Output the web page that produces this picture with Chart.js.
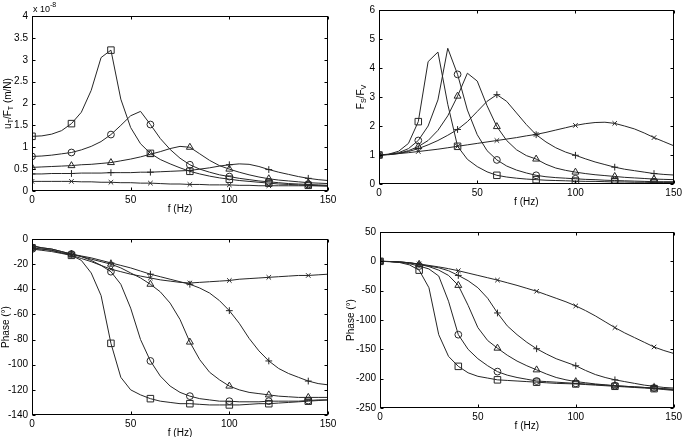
<!DOCTYPE html>
<html>
<head>
<meta charset="utf-8">
<script src="https://cdn.jsdelivr.net/npm/chart.js@4"></script>
<style>
html, body { margin: 0; padding: 0; background: #fff; }
#wrap { position: relative; width: 685px; height: 437px; overflow: hidden; }
#wrap canvas { position: absolute; left: 0; top: 0; }
</style>
</head>
<body>
<div id="wrap">
  <canvas id="c1" width="685" height="437"></canvas>
  <canvas id="c2" width="685" height="437"></canvas>
  <canvas id="c3" width="685" height="437"></canvas>
  <canvas id="c4" width="685" height="437"></canvas>
</div>
<script>
// frequency grid (Hz), markers every 20 Hz
const freq = [0,5,10,15,20,25,30,35,40,45,50,55,60,65,70,75,80,85,90,95,100,105,110,115,120,125,130,135,140,145,150];
const xTicks = [0, 50, 100, 150];

// top left: uT/FT (x 1e-8 m/N)
const uSquare   = [1.25,1.26,1.3,1.38,1.54,1.8,2.3,3.05,3.22,2.1,1.45,1.08,0.86,0.72,0.62,0.53,0.45,0.39,0.34,0.3,0.27,0.24,0.22,0.2,0.18,0.16,0.15,0.14,0.13,0.12,0.11];
const uCircle   = [0.79,0.8,0.82,0.85,0.88,0.94,1.02,1.13,1.29,1.5,1.72,1.82,1.52,1.2,0.95,0.75,0.6,0.5,0.43,0.37,0.33,0.29,0.26,0.23,0.21,0.19,0.17,0.16,0.15,0.14,0.13];
const uTriangle = [0.54,0.55,0.56,0.57,0.58,0.6,0.61,0.63,0.65,0.69,0.73,0.78,0.84,0.9,0.97,1.02,1.0,0.85,0.7,0.58,0.5,0.43,0.37,0.32,0.28,0.25,0.23,0.21,0.19,0.18,0.17];
const uPlus     = [0.39,0.39,0.4,0.4,0.4,0.41,0.41,0.41,0.42,0.42,0.42,0.43,0.43,0.44,0.45,0.46,0.47,0.5,0.53,0.57,0.6,0.62,0.61,0.56,0.49,0.43,0.38,0.33,0.29,0.26,0.24];
const uCross    = [0.22,0.22,0.22,0.22,0.22,0.21,0.21,0.2,0.2,0.19,0.19,0.18,0.18,0.17,0.16,0.16,0.15,0.15,0.14,0.14,0.14,0.13,0.13,0.12,0.12,0.12,0.12,0.12,0.12,0.12,0.12];
const uTicks = [0, 0.5, 1, 1.5, 2, 2.5, 3, 3.5, 4];

// top right: FS/FV
const fSquare   = [1,1.03,1.13,1.4,2.15,4.22,4.55,2.75,1.3,0.85,0.6,0.42,0.3,0.24,0.2,0.17,0.15,0.13,0.12,0.11,0.1,0.09,0.09,0.08,0.07,0.07,0.06,0.06,0.05,0.05,0.05];
const fCircle   = [1,1.02,1.08,1.22,1.5,2.0,2.9,4.68,3.78,2.55,1.7,1.15,0.83,0.62,0.48,0.38,0.3,0.25,0.22,0.2,0.18,0.16,0.15,0.13,0.12,0.11,0.1,0.09,0.08,0.08,0.08];
const fTriangle = [1,1.02,1.06,1.15,1.29,1.5,1.85,2.35,3.03,3.82,3.55,2.7,1.98,1.5,1.18,0.98,0.86,0.68,0.55,0.47,0.41,0.36,0.32,0.29,0.26,0.23,0.21,0.19,0.17,0.16,0.15];
const fPlus     = [1,1.01,1.05,1.12,1.22,1.35,1.5,1.68,1.88,2.15,2.5,2.85,3.08,2.85,2.45,2.05,1.7,1.45,1.25,1.1,0.99,0.87,0.76,0.67,0.58,0.51,0.46,0.41,0.36,0.33,0.31];
const fCross    = [1,1.02,1.05,1.08,1.12,1.16,1.2,1.25,1.3,1.35,1.4,1.45,1.5,1.55,1.6,1.66,1.71,1.78,1.86,1.94,2.02,2.08,2.12,2.13,2.09,2.0,1.9,1.76,1.6,1.46,1.32];
const fTicks = [0, 1, 2, 3, 4, 5, 6];

// bottom left: phase of uT/FT (deg)
const puSquare   = [-7,-8,-9,-11,-13,-17,-27,-45,-83,-110,-120,-124,-127,-129,-130,-131,-131,-131.5,-132,-132,-132,-132,-131.5,-131,-131,-130.5,-130,-129.5,-129,-128.5,-128];
const puCircle   = [-8,-8,-9,-11,-12,-14,-17,-21,-26,-36,-55,-80,-97,-109,-117,-122,-125,-127,-128,-129,-129,-129.5,-129.5,-129.5,-129,-129,-129,-129,-128.5,-128,-128];
const puTriangle = [-6,-7,-8,-10,-12,-14,-16,-18,-20,-23,-27,-31,-36,-42,-51,-64,-82,-96,-106,-112,-117,-120,-122,-123,-124,-125,-125.5,-126,-126,-126,-126];
const puPlus     = [-5,-7,-8,-10,-12,-13.5,-15,-17,-19,-21,-23,-25.5,-28,-30,-32,-34,-36,-39,-43,-49,-57,-67,-79,-89,-97,-103,-107,-110,-113,-115,-116];
const puCross    = [-8,-9,-10,-11.5,-13,-15.5,-18,-21,-24,-26,-28,-29.5,-31,-32.5,-33.5,-34.5,-35,-34.5,-34,-33.5,-33,-32,-31.5,-31,-30.5,-30,-29.5,-29,-29,-28.5,-28];
const puTicks = [-140, -120, -100, -80, -60, -40, -20, 0];

// bottom right: phase of FS/FV (deg)
const pfSquare   = [0,-0.5,-2,-6,-15,-45,-125,-162,-179,-190,-196,-199,-202,-203,-204,-205,-206,-207,-208,-208.5,-209,-210,-211,-212,-213,-214,-215,-216,-217,-218.5,-220];
const pfCircle   = [0,-0.5,-1.5,-4,-8,-13,-25,-68,-125,-150,-166,-178,-188,-194,-198,-201,-204,-205,-206,-207,-208,-209,-210,-211,-212,-213,-214,-215,-216,-217.5,-219];
const pfTriangle = [0,-0.3,-1,-2.5,-5,-9,-15,-24,-41,-75,-113,-135,-148,-160,-170,-178,-185,-192,-198,-202,-205,-207,-209,-210.5,-212,-213,-214,-215,-216,-217,-218];
const pfPlus     = [0,-0.3,-1,-2.5,-5,-8,-11,-16,-24,-33,-45,-63,-88,-110,-125,-138,-149,-158,-166,-172,-178,-186,-193,-198,-202,-205,-208,-211,-213,-215,-216];
const pfCross    = [0,-0.3,-1,-2.5,-4.5,-7,-9.5,-12.5,-16,-20,-24,-28,-32,-36.5,-41,-46,-51,-57,-63,-69,-76,-84,-93,-103,-113,-122,-130,-138,-146,-152,-157];
const pfTicks = [-250, -200, -150, -100, -50, 0, 50];

const markerStyles = ['rect', 'circle', 'triangle', 'cross', 'crossRot'];
const markerSizes  = [4.6, 3.4, 4, 3.4, 3.2];
const lineColor = '#262626';
const FONT = '"Liberation Sans", Arial, sans-serif';

// box + inward ticks + axis labels (matlab look)
const frame = {
  id: 'frame',
  afterDraw(chart, args, o) {
    const ctx = chart.ctx, a = chart.chartArea, sx = chart.scales.x, sy = chart.scales.y;
    ctx.save();
    ctx.strokeStyle = '#000';
    ctx.lineWidth = 1;
    const L = Math.round(a.left) + 0.5, R = Math.round(a.right) - 0.5;
    const T = Math.round(a.top) + 0.5, B = Math.round(a.bottom) - 0.5;
    ctx.strokeRect(L, T, R - L, B - T);
    ctx.beginPath();
    sx.ticks.forEach(t => {
      const p = Math.round(sx.getPixelForValue(t.value)) + 0.5;
      ctx.moveTo(p, B); ctx.lineTo(p, B - 3);
      ctx.moveTo(p, T); ctx.lineTo(p, T + 3);
    });
    sy.ticks.forEach(t => {
      const p = Math.round(sy.getPixelForValue(t.value)) + 0.5;
      ctx.moveTo(L, p); ctx.lineTo(L + 3, p);
      ctx.moveTo(R, p); ctx.lineTo(R - 3, p);
    });
    ctx.stroke();

    ctx.fillStyle = '#000';
    ctx.textBaseline = 'middle';
    ctx.textAlign = 'center';
    ctx.font = '10px ' + FONT;
    ctx.fillText('f (Hz)', (a.left + a.right) / 2, a.bottom + 18);

    // y title with subscripts
    ctx.translate(a.left - o.yOff, (a.top + a.bottom) / 2);
    ctx.rotate(-Math.PI / 2);
    ctx.textAlign = 'left';
    ctx.textBaseline = 'alphabetic';
    let w = 0;
    o.yTitle.forEach(s => { ctx.font = (s[1] ? '7px ' : '10px ') + FONT; w += ctx.measureText(s[0]).width; });
    let x = -w / 2;
    o.yTitle.forEach(s => {
      ctx.font = (s[1] ? '7px ' : '10px ') + FONT;
      ctx.fillText(s[0], x, s[1] ? 6 : 3.5);
      x += ctx.measureText(s[0]).width;
    });
    ctx.restore();

    if (o.expo) {
      ctx.save();
      ctx.fillStyle = '#000';
      ctx.textBaseline = 'alphabetic';
      ctx.font = '9px ' + FONT;
      ctx.fillText('x 10', a.left + 1, a.top - 4);
      const ww = ctx.measureText('x 10').width;
      ctx.font = '7px ' + FONT;
      ctx.fillText('-8', a.left + 1 + ww, a.top - 9);
      ctx.restore();
    }
  }
};

function makeSets(series) {
  return series.map((vals, k) => ({
    data: freq.map((f, i) => ({ x: f, y: vals[i] })),
    borderColor: lineColor,
    borderWidth: 1,
    tension: 0,
    pointStyle: markerStyles[k],
    pointRadius: c => (freq[c.dataIndex] % 20 === 0 ? markerSizes[k] : 0),
    pointBorderColor: lineColor,
    pointBackgroundColor: 'rgba(0,0,0,0)',
    pointBorderWidth: 1
  }));
}

// plain matlab-like tick text: 0, 0.5, 1, -20 ...
const plainTick = v => String(Math.round(v * 1000) / 1000);

function makeChart(id, series, box, yTicksArr, yTitle, yOff, expo) {
  // label text is clipped to the axis box, so keep it wide enough for "-140"
  const yW = 30, xH = 16;
  new Chart(document.getElementById(id), {
    type: 'line',
    data: { datasets: makeSets(series) },
    plugins: [frame],
    options: {
      responsive: false,
      animation: false,
      devicePixelRatio: 1,
      layout: { padding: { left: box.L - yW, top: box.T, right: 685 - box.R, bottom: 437 - box.B - xH } },
      plugins: { legend: { display: false }, tooltip: { enabled: false }, frame: { yTitle: yTitle, yOff: yOff, expo: expo } },
      scales: {
        x: {
          type: 'linear', min: xTicks[0], max: xTicks[xTicks.length - 1],
          grid: { display: false, drawTicks: false }, border: { display: false },
          ticks: { stepSize: 50, padding: 3, color: '#000', font: { family: FONT, size: 10 }, maxRotation: 0, callback: plainTick },
          afterFit: s => { s.height = xH; }
        },
        y: {
          min: yTicksArr[0], max: yTicksArr[yTicksArr.length - 1],
          grid: { display: false, drawTicks: false }, border: { display: false },
          ticks: { stepSize: yTicksArr[1] - yTicksArr[0], padding: 4, color: '#000', font: { family: FONT, size: 10 }, callback: plainTick },
          afterFit: s => { s.width = yW; }
        }
      }
    }
  });
}

makeChart('c1', [uSquare, uCircle, uTriangle, uPlus, uCross], { L: 32, R: 328, T: 16, B: 191 }, uTicks,
  [['u', 0], ['T', 1], ['/F', 0], ['T', 1], [' (m/N)', 0]], 25, true);
makeChart('c2', [fSquare, fCircle, fTriangle, fPlus, fCross], { L: 379, R: 677, T: 9, B: 184 }, fTicks,
  [['F', 0], ['S', 1], ['/F', 0], ['V', 1]], 19, false);
makeChart('c3', [puSquare, puCircle, puTriangle, puPlus, puCross], { L: 32, R: 328, T: 239, B: 415 }, puTicks,
  [['Phase (\u00b0)', 0]], 27, false);
makeChart('c4', [pfSquare, pfCircle, pfTriangle, pfPlus, pfCross], { L: 380, R: 677, T: 232, B: 408 }, pfTicks,
  [['Phase (\u00b0)', 0]], 30, false);
</script>
</body>
</html>
